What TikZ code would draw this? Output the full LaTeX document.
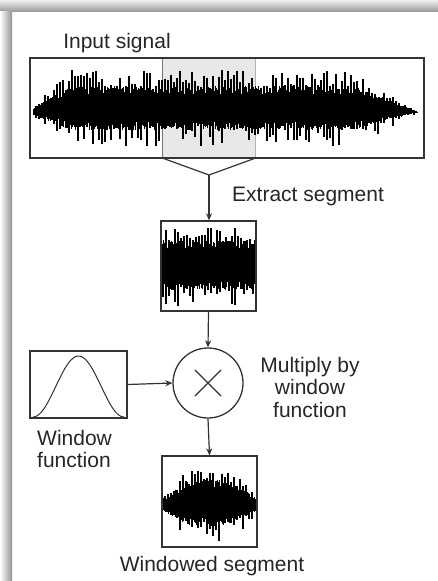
\documentclass[tikz,border=0pt]{standalone}
\usepackage{fontspec}
\setmainfont{Liberation Sans}
\usetikzlibrary{arrows.meta}
\begin{document}
\begin{tikzpicture}[x=1pt,y=-1pt,
  frame/.style={draw=black!80, line width=1.3pt, inner sep=0pt},
  lbl/.style={font=\fontsize{21}{22.5}\selectfont, text=black!85, inner sep=0pt},
  wire/.style={draw=black!80, line width=1.2pt},
  arrow/.style={wire, -{Stealth[length=7pt,width=6pt]}},
  core/.style={line width=0.9pt, black},
  spike/.style={line width=1.6pt, black},
  declare function={
    envA(\x)=min(1,0.15+(\x-33)/45)*min(1,(419-\x)/65);
    envC(\x)=min(1,0.25+0.9*sin(1.8947*(\x-162)));
  }]
% page with its drop shadow along the top and left edges
\useasboundingbox (0,0) rectangle (438,581);
\fill[white] (0,0) rectangle (438,581);
\shade[top color=black!6, bottom color=black!38] (0,0) rectangle (438,11);
\shade[left color=white, right color=black!42] (0,11) rectangle (12,581);

% input signal with the highlighted part that is cut out
\node[fill=black!9, minimum width=92pt, minimum height=100pt, inner sep=0pt] (part) at (209,108) {};
\draw[black!55, line width=0.8pt] (part.north west) -- (part.south west);
\draw[black!30, line width=0.6pt] (part.north east) -- (part.south east);
\pgfmathsetseed{12}
\draw[core] \foreach \x [evaluate=\x as \u using {envA(\x)*(22+4*rand)},
                         evaluate=\x as \d using {envA(\x)*(14+4*rand)}]
  in {33.5,34.3,...,418} {(\x,112-\u) -- (\x,112+\d)};
\draw[spike] \foreach \x [evaluate=\x as \u using {envA(\x)*(22+20*rnd^1.3)},
                          evaluate=\x as \d using {envA(\x)*(14+21*rnd^2)}]
  in {36,39,...,416} {(\x,112-\u) -- (\x,112+\d)};
\node[frame, minimum width=394pt, minimum height=100pt] (sig) at (227,108) {};
\node[lbl] (tin) at (117,43) {Input signal};

% bracket gathering the part into one line
\coordinate (apex) at (209,175);
\draw[wire] (part.south west) -- (apex) -- (part.south east);

% extracted segment
\node[frame, minimum width=95pt, minimum height=90pt] (seg) at (208.5,266) {};
\begin{scope}
  \clip (seg.south west) rectangle (seg.north east);
  \draw[core] \foreach \x [evaluate=\x as \u using {22+4*rand},
                           evaluate=\x as \d using {20+4*rand}]
    in {162,162.8,...,255} {(\x,266-\u) -- (\x,266+\d)};
  \draw[spike] \foreach \x [evaluate=\x as \u using {22+17*rnd^1.3},
                            evaluate=\x as \d using {20+20*rnd^2}]
    in {163,166,...,255} {(\x,266-\u) -- (\x,266+\d)};
\end{scope}
\draw[frame] (seg.south west) rectangle (seg.north east);
\draw[arrow] (apex) -- (apex |- seg.north);
\node[lbl, anchor=west] (text) at (232,196) {Extract segment};

% multiplier
\node[circle, frame, minimum size=70pt] (mul) at (208,383) {};
\draw[wire] ([shift={(-13,-13)}]mul.center) -- ([shift={(13,13)}]mul.center);
\draw[wire] ([shift={(-13,13)}]mul.center) -- ([shift={(13,-13)}]mul.center);
\node[lbl, align=center] (tmul) at (310,387) {Multiply by\\window\\function};

% window function
\node[frame, minimum width=97pt, minimum height=67pt] (wf) at (78.5,384.5) {};
\draw[line width=1pt, black!80] plot[domain=0:1, samples=61, smooth] ({33+91*\x}, {417-61*(sin(180*\x))^2});
\node[lbl, align=left, anchor=west] (twf) at (37,449) {Window\\function};

% windowed segment
\node[frame, minimum width=95pt, minimum height=91pt] (out) at (209.5,501.5) {};
\begin{scope}
  \clip (out.south west) rectangle (out.north east);
  \draw[core] \foreach \x [evaluate=\x as \u using {envC(\x)*(21+4*rand)},
                           evaluate=\x as \d using {envC(\x)*(17+4*rand)}]
    in {163,163.8,...,256} {(\x,505-\u) -- (\x,505+\d)};
  \draw[spike] \foreach \x [evaluate=\x as \u using {envC(\x)*(21+17*rnd^1.3)},
                            evaluate=\x as \d using {envC(\x)*(17+21*rnd^2)}]
    in {165,168,...,254} {(\x,505-\u) -- (\x,505+\d)};
\end{scope}
\draw[frame] (out.south west) rectangle (out.north east);
\node[lbl] (tout) at (212,566) {Windowed segment};

% connectors
\draw[arrow] (seg.south) -- (mul.north);
\draw[arrow] (wf.east) -- (mul.west);
\draw[arrow] (mul.south) -- (out.north);
\end{tikzpicture}
\end{document}
